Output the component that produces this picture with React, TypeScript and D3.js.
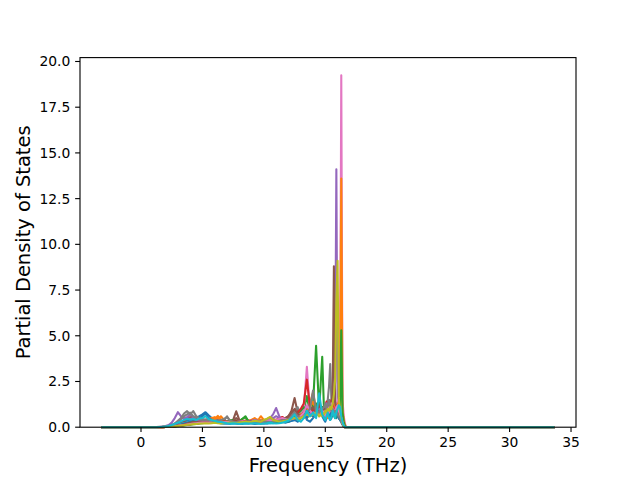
import React from 'react';
import * as d3 from 'd3';

const WIDTH = 640;
const HEIGHT = 480;
const MARGIN = { top: 57.6, right: 64, bottom: 52.8, left: 80 };

// frequency grid (THz) of the pdos data, plus the two flat end points
const FREQ_MIN = -3.13;
const FREQ_MAX = 33.57;
const FREQ = [
  1.0, 1.25, 1.5, 1.75, 2.0, 2.25, 2.5, 2.75, 3.0, 3.25, 3.5, 3.75,
  4.0, 4.25, 4.5, 4.75, 5.0, 5.25, 5.5, 5.75, 6.0, 6.25, 6.5, 6.75,
  7.0, 7.25, 7.5, 7.75, 8.0, 8.25, 8.5, 8.75, 9.0, 9.25, 9.5, 9.75,
  10.0, 10.25, 10.5, 10.75, 11.0, 11.25, 11.5, 11.75, 12.0, 12.25, 12.5, 12.75,
  13.0, 13.25, 13.5, 13.75, 14.0, 14.25, 14.5, 14.75,
  14.9, 15.0, 15.1, 15.2, 15.3, 15.4, 15.5, 15.6, 15.7, 15.8,
  15.9, 16.0, 16.1, 16.2, 16.3, 16.4, 16.5, 16.6, 16.7, 16.8,
];

const PDOS_00 = [0,0,0.01,0.02, 0.04,0.07,0.1,0.15, 0.2,0.25,0.3,0.35, 0.4,0.45,0.5,0.6, 0.7,0.82,0.65,0.5, 0.4,0.35,0.3,0.25, 0.3,0.25,0.2,0.25, 0.3,0.25,0.2,0.2, 0.25,0.3,0.25,0.2, 0.2,0.25,0.3,0.25, 0.3,0.35,0.3,0.25, 0.3,0.35,0.4,0.3, 0.5,0.9,0.4,0.3, 0.5,0.7,1.1,0.6,
  0.4,0.3,0.5,0.8,0.6,0.4,0.5,0.7,0.9,0.6, 0.5,0.8,0.6,0.4,0.3,0.2,0.1,0.02,0,0];
const PDOS_01 = [0,0,0,0.01, 0.02,0.04,0.07,0.1, 0.12,0.15,0.2,0.22, 0.25,0.28,0.3,0.32, 0.35,0.4,0.45,0.5, 0.55,0.45,0.6,0.4, 0.3,0.35,0.25,0.3, 0.25,0.3,0.35,0.3, 0.4,0.5,0.35,0.6, 0.4,0.3,0.35,0.4, 0.3,0.35,0.3,0.4, 0.5,0.45,0.6,0.4, 0.5,0.7,1.0,1.3, 1.9,0.9,0.6,0.8,
  0.6,0.9,0.7,0.5,0.8,1.1,0.9,0.7,0.6,1.0, 1.3,0.9,1.2,0.6,0.4,0.2,0.1,0,0,0];
const PDOS_02 = [0,0,0,0.01, 0.02,0.03,0.05,0.08, 0.1,0.12,0.15,0.18, 0.2,0.22,0.25,0.28, 0.3,0.32,0.3,0.35, 0.3,0.28,0.35,0.3, 0.25,0.3,0.35,0.3, 0.35,0.45,0.6,0.3, 0.25,0.3,0.25,0.3, 0.35,0.3,0.25,0.3, 0.35,0.3,0.4,0.35, 0.3,0.4,0.5,0.6, 0.7,0.9,1.7,0.8, 1.2,4.45,0.9,3.85,
  0.8,0.5,0.6,0.9,0.7,0.5,0.6,0.8,0.7,0.5, 0.6,0.7,0.5,0.4,0.3,0.15,0.05,0,0,0];
const PDOS_03 = [0,0,0,0, 0.01,0.02,0.04,0.06, 0.08,0.1,0.12,0.15, 0.17,0.2,0.22,0.25, 0.25,0.28,0.3,0.3, 0.32,0.3,0.28,0.3, 0.3,0.35,0.3,0.28, 0.3,0.32,0.35,0.3, 0.3,0.28,0.32,0.35, 0.3,0.35,0.3,0.35, 0.4,0.45,0.55,0.4, 0.45,0.5,0.6,0.7, 0.7,0.8,1.0,0.9, 0.8,1.1,0.9,0.7,
  0.9,1.2,0.8,1.0,1.3,1.1,1.4,0.9,1.0,0.8, 0.9,1.0,0.8,0.7,0.5,0.3,0.1,0.02,0,0];
const PDOS_04 = [0,0,0.01,0.03, 0.06,0.12,0.25,0.5, 0.82,0.6,0.45,0.55, 0.7,0.5,0.4,0.45, 0.4,0.35,0.3,0.35, 0.3,0.25,0.3,0.28, 0.25,0.3,0.28,0.25, 0.3,0.35,0.3,0.25, 0.3,0.35,0.4,0.3, 0.35,0.4,0.5,0.7, 1.05,0.6,0.4,0.35, 0.4,0.5,0.45,0.6, 0.5,0.7,0.6,0.8, 0.7,0.9,0.8,1.1,
  0.9,1.2,0.8,1.0,1.4,1.0,0.9,1.1,1.3,2.5, 14.1,1.2,0.8,0.6,0.4,0.2,0.05,0,0,0];
const PDOS_05 = [0,0,0,0.01, 0.02,0.04,0.06,0.1, 0.15,0.2,0.3,0.45, 0.55,0.5,0.45,0.4, 0.35,0.4,0.35,0.3, 0.35,0.3,0.4,0.35, 0.3,0.35,0.4,0.87, 0.4,0.3,0.35,0.3, 0.35,0.3,0.4,0.35, 0.3,0.35,0.4,0.35, 0.4,0.35,0.45,0.5, 0.6,0.9,1.6,0.8, 0.6,0.7,0.9,0.8, 1.0,0.9,1.2,0.8,
  1.0,0.9,1.1,0.8,1.2,1.0,1.3,1.4,1.1,0.9, 1.0,0.8,0.6,0.5,0.4,0.2,0.05,0,0,0];
const PDOS_06 = [0,0,0,0, 0.01,0.02,0.04,0.06, 0.1,0.15,0.2,0.25, 0.3,0.28,0.32,0.35, 0.3,0.28,0.25,0.3, 0.35,0.3,0.25,0.3, 0.28,0.25,0.3,0.35, 0.3,0.25,0.3,0.35, 0.4,0.35,0.3,0.35, 0.3,0.35,0.4,0.45, 0.4,0.5,0.45,0.4, 0.35,0.4,0.5,0.6, 0.8,1.0,3.3,0.9, 0.6,0.8,0.7,0.9,
  0.6,0.8,0.7,0.9,1.0,0.8,1.2,1.3,0.9,1.0, 1.1,1.4,1.6,2.0,19.25,1.5,0.6,0.2,0,0];
const PDOS_07 = [0,0.01,0.02,0.03, 0.05,0.08,0.12,0.2, 0.35,0.5,0.75,0.88, 0.7,0.88,0.6,0.5, 0.45,0.4,0.45,0.4, 0.35,0.4,0.3,0.35, 0.6,0.35,0.3,0.3, 0.25,0.3,0.35,0.3, 0.3,0.35,0.3,0.25, 0.3,0.35,0.3,0.35, 0.3,0.35,0.4,0.45, 0.5,0.7,0.9,1.1, 0.6,0.5,0.7,0.9, 1.0,0.8,0.7,0.9,
  0.8,1.0,1.2,1.5,2.2,3.45,1.4,1.0,0.9,1.1, 0.9,0.8,0.7,0.6,0.5,0.3,0.1,0.02,0,0];
const PDOS_08 = [0,0,0,0.01, 0.02,0.03,0.05,0.07, 0.1,0.12,0.15,0.18, 0.2,0.22,0.24,0.25, 0.25,0.26,0.25,0.24, 0.25,0.27,0.3,0.28, 0.25,0.27,0.3,0.28, 0.3,0.32,0.3,0.28, 0.3,0.35,0.4,0.35, 0.4,0.45,0.55,0.45, 0.35,0.3,0.35,0.4, 0.45,0.4,0.5,0.55, 0.5,0.6,0.5,0.7, 0.6,0.7,0.8,0.6,
  0.7,0.8,0.6,0.9,0.8,1.0,0.9,1.2,1.0,0.8, 0.9,1.1,0.8,0.6,0.4,0.2,0.05,0,0,0];
const PDOS_09 = [0,0,0,0.01, 0.02,0.04,0.06,0.1, 0.14,0.18,0.22,0.25, 0.28,0.3,0.32,0.3, 0.32,0.35,0.3,0.28, 0.25,0.24,0.22,0.2, 0.2,0.18,0.2,0.22, 0.2,0.18,0.2,0.22, 0.24,0.22,0.2,0.22, 0.25,0.22,0.2,0.22, 0.24,0.26,0.28,0.3, 0.35,0.4,0.45,0.5, 0.5,0.6,0.7,0.6, 0.7,0.9,1.2,0.8,
  0.6,0.5,0.7,0.9,0.6,0.5,0.8,0.7,0.6,0.8, 0.9,0.7,0.6,0.5,0.4,0.2,0.05,0,0,0];
const PDOS_10 = [0,0,0,0, 0.01,0.03,0.05,0.08, 0.12,0.15,0.2,0.25, 0.3,0.35,0.4,0.5, 0.6,0.75,0.5,0.4, 0.3,0.25,0.22,0.2, 0.2,0.22,0.25,0.2, 0.18,0.2,0.25,0.22, 0.2,0.18,0.2,0.25, 0.22,0.2,0.25,0.28, 0.3,0.28,0.32,0.35, 0.3,0.35,0.4,0.45, 0.6,0.7,0.5,0.8, 0.6,0.9,0.7,1.0,
  0.7,0.6,0.8,1.0,0.7,0.6,0.9,1.1,0.8,0.7, 0.9,0.6,0.5,0.4,0.3,0.15,0.05,0,0,0];
const PDOS_11 = [0,0,0,0, 0.01,0.02,0.03,0.05, 0.08,0.1,0.12,0.15, 0.18,0.2,0.22,0.25, 0.28,0.3,0.35,0.4, 0.45,0.62,0.4,0.35, 0.3,0.35,0.3,0.28, 0.3,0.35,0.3,0.35, 0.4,0.45,0.4,0.35, 0.3,0.35,0.3,0.35, 0.4,0.35,0.4,0.45, 0.5,0.55,0.5,0.6, 0.7,0.8,0.9,1.1, 1.4,0.8,0.7,0.9,
  0.8,1.0,0.9,1.1,0.8,1.2,1.0,0.9,1.1,1.3, 1.0,1.2,1.4,1.8,13.6,1.0,0.4,0.1,0,0];
const PDOS_12 = [0,0,0,0, 0.01,0.02,0.03,0.04, 0.06,0.08,0.1,0.12, 0.14,0.16,0.18,0.2, 0.22,0.24,0.25,0.26, 0.28,0.3,0.28,0.3, 0.32,0.35,0.4,0.35, 0.3,0.45,0.55,0.35, 0.3,0.28,0.3,0.32, 0.3,0.35,0.3,0.28, 0.3,0.32,0.35,0.4, 0.45,0.5,0.6,0.8, 0.9,1.1,0.8,0.9, 1.0,1.3,0.9,1.1,
  0.8,0.7,0.9,1.0,0.8,0.9,1.1,0.8,0.7,0.9, 1.0,0.8,0.9,1.2,5.3,0.8,0.3,0.05,0,0];
const PDOS_13 = [0,0,0,0, 0.01,0.02,0.03,0.05, 0.07,0.09,0.12,0.14, 0.16,0.18,0.2,0.22, 0.24,0.25,0.26,0.28, 0.3,0.28,0.3,0.32, 0.3,0.28,0.3,0.32, 0.3,0.35,0.32,0.3, 0.35,0.3,0.32,0.35, 0.38,0.35,0.4,0.38, 0.4,0.45,0.55,0.45, 0.5,0.6,0.7,0.8, 1.0,1.3,2.6,1.1, 0.9,1.0,1.2,0.9,
  1.0,1.2,1.4,1.1,0.9,1.3,1.5,1.2,1.0,0.9, 1.1,0.9,1.0,0.8,0.6,0.3,0.1,0,0,0];
const PDOS_14 = [0,0,0,0.01, 0.02,0.04,0.08,0.15, 0.3,0.45,0.55,0.5, 0.45,0.5,0.4,0.35, 0.3,0.32,0.3,0.28, 0.25,0.28,0.3,0.25, 0.22,0.25,0.28,0.25, 0.22,0.25,0.28,0.3, 0.35,0.4,0.35,0.3, 0.35,0.4,0.45,0.5, 0.6,0.5,0.4,0.35, 0.4,0.45,0.5,0.55, 0.6,0.7,0.8,0.7, 0.8,0.9,1.0,0.8,
  0.9,1.1,1.3,1.0,0.8,0.9,1.0,0.8,0.7,0.9, 1.1,0.8,0.6,0.5,0.3,0.15,0.05,0,0,0];
const PDOS_15 = [0,0,0,0, 0.01,0.02,0.04,0.06, 0.09,0.12,0.15,0.2, 0.25,0.3,0.28,0.3, 0.32,0.3,0.28,0.3, 0.32,0.35,0.3,0.28, 0.3,0.32,0.35,0.5, 0.35,0.3,0.28,0.3, 0.32,0.3,0.28,0.3, 0.32,0.35,0.3,0.32, 0.35,0.4,0.45,0.5, 0.6,0.8,1.0,0.7, 0.6,0.8,0.7,0.9, 1.1,0.8,1.3,0.9,
  1.0,1.2,0.9,1.1,1.3,1.0,1.2,1.9,8.8,1.4, 1.0,0.8,0.6,0.5,0.4,0.2,0.05,0,0,0];
const PDOS_16 = [0,0,0,0, 0.01,0.02,0.03,0.05, 0.08,0.1,0.12,0.15, 0.18,0.2,0.22,0.24, 0.25,0.26,0.25,0.28, 0.3,0.28,0.26,0.28, 0.3,0.28,0.26,0.28, 0.3,0.32,0.3,0.28, 0.3,0.35,0.32,0.3, 0.32,0.35,0.38,0.35, 0.4,0.45,0.5,0.45, 0.4,0.45,0.5,0.55, 0.6,0.8,1.2,0.9, 0.7,0.8,0.6,0.9,
  0.8,0.6,0.9,1.1,0.8,1.0,1.3,1.0,0.8,0.9, 1.1,1.2,0.9,0.7,0.5,0.25,0.05,0,0,0];
const PDOS_17 = [0,0,0.01,0.02, 0.04,0.07,0.1,0.18, 0.3,0.45,0.6,0.7, 0.8,0.6,0.55,0.45, 0.4,0.42,0.38,0.35, 0.32,0.35,0.4,0.45, 0.55,0.35,0.3,0.28, 0.3,0.28,0.3,0.32, 0.28,0.3,0.32,0.3, 0.32,0.3,0.28,0.3, 0.32,0.35,0.38,0.4, 0.45,0.6,0.8,0.6, 0.5,0.6,0.8,1.0, 2.0,0.9,0.8,1.0,
  1.1,1.3,1.0,1.2,1.5,1.1,0.9,1.0,0.8,0.9, 0.8,0.7,0.6,0.5,0.4,0.2,0.05,0,0,0];
const PDOS_18 = [0,0,0,0, 0.01,0.02,0.03,0.05, 0.07,0.09,0.11,0.13, 0.15,0.17,0.18,0.2, 0.2,0.22,0.2,0.22, 0.24,0.22,0.2,0.22, 0.24,0.26,0.24,0.22, 0.25,0.28,0.3,0.28, 0.3,0.35,0.32,0.3, 0.4,0.45,0.55,0.4, 0.35,0.3,0.32,0.35, 0.4,0.45,0.5,0.45, 0.5,0.6,0.7,0.6, 0.7,0.8,0.6,0.8,
  0.7,0.9,0.8,1.0,0.9,1.1,1.0,1.3,1.8,2.6, 7.0,9.1,1.6,0.9,0.5,0.25,0.05,0,0,0];
const PDOS_19 = [0,0,0.01,0.02, 0.04,0.07,0.12,0.18, 0.25,0.32,0.4,0.45, 0.42,0.45,0.4,0.48, 0.5,0.6,0.45,0.4, 0.35,0.3,0.28,0.25, 0.22,0.2,0.22,0.2, 0.18,0.2,0.22,0.2, 0.2,0.22,0.2,0.18, 0.2,0.22,0.25,0.22, 0.2,0.22,0.25,0.3, 0.35,0.5,0.7,0.4, 0.3,0.5,0.9,0.6, 0.8,0.5,1.85,0.7,
  0.5,0.4,0.6,0.8,0.5,0.4,0.6,0.9,0.7,0.5, 0.8,1.0,1.2,1.1,0.6,0.3,0.1,0.02,0,0];

const SERIES = [
  PDOS_00, PDOS_01, PDOS_02, PDOS_03, PDOS_04, PDOS_05, PDOS_06, PDOS_07, PDOS_08, PDOS_09,
  PDOS_10, PDOS_11, PDOS_12, PDOS_13, PDOS_14, PDOS_15, PDOS_16, PDOS_17, PDOS_18, PDOS_19,
];

const X_TICKS = [0, 5, 10, 15, 20, 25, 30, 35];
const Y_TICKS = [0, 2.5, 5, 7.5, 10, 12.5, 15, 17.5, 20];

const FONT = 'DejaVu Sans, sans-serif';
const TICK = 4.86;
const PAD = 4.86;

const App = () => {
  const boundsWidth = WIDTH - MARGIN.left - MARGIN.right;
  const boundsHeight = HEIGHT - MARGIN.top - MARGIN.bottom;
  const x0 = MARGIN.left;
  const y0 = MARGIN.top + boundsHeight;

  // matplotlib style 5% margins on x, bottom pinned at 0
  const span = FREQ_MAX - FREQ_MIN;
  const xScale = d3
    .scaleLinear()
    .domain([FREQ_MIN - 0.05 * span, FREQ_MAX + 0.05 * span])
    .range([MARGIN.left, MARGIN.left + boundsWidth]);

  const yMax = d3.max(SERIES, (s) => d3.max(s)) ?? 1;
  const yScale = d3
    .scaleLinear()
    .domain([0, yMax * 1.05])
    .range([y0, MARGIN.top]);

  const line = d3
    .line<[number, number]>()
    .x((d) => xScale(d[0]))
    .y((d) => yScale(d[1]));

  const colors = d3.schemeCategory10;

  const paths = SERIES.map((vals, i) => {
    const pts: [number, number][] = [[FREQ_MIN, 0]];
    vals.forEach((v, j) => pts.push([FREQ[j], v]));
    pts.push([FREQ_MAX, 0]);
    return (
      <path
        key={i}
        d={line(pts) ?? ''}
        fill="none"
        stroke={colors[i % 10]}
        strokeWidth={2.08}
        strokeLinejoin="round"
        strokeLinecap="square"
      />
    );
  });

  return (
    <svg
      width={WIDTH}
      height={HEIGHT}
      style={{ position: 'absolute', left: 0, top: 0, background: '#fff' }}
      fontFamily={FONT}
    >
      <rect x={0} y={0} width={WIDTH} height={HEIGHT} fill="#fff" />
      {paths}

      {/* frame */}
      <rect
        x={x0}
        y={MARGIN.top}
        width={boundsWidth}
        height={boundsHeight}
        fill="none"
        stroke="#000"
        strokeWidth={1.11}
      />

      {/* x axis */}
      {X_TICKS.map((t) => (
        <g key={t} transform={`translate(${xScale(t)},${y0})`}>
          <line y2={TICK} stroke="#000" strokeWidth={1.11} />
          <text y={TICK + PAD + 10.5} textAnchor="middle" fontSize={13.89} fill="#000">
            {t}
          </text>
        </g>
      ))}

      {/* y axis */}
      {Y_TICKS.map((t) => (
        <g key={t} transform={`translate(${x0},${yScale(t)})`}>
          <line x2={-TICK} stroke="#000" strokeWidth={1.11} />
          <text x={-TICK - PAD} y={5} textAnchor="end" fontSize={13.89} fill="#000">
            {t.toFixed(1)}
          </text>
        </g>
      ))}

      <text x={x0 + boundsWidth / 2} y={472} textAnchor="middle" fontSize={19.44} fill="#000">
        Frequency (THz)
      </text>
      <text
        transform={`translate(29.5,${MARGIN.top + boundsHeight / 2}) rotate(-90)`}
        textAnchor="middle"
        fontSize={19.44}
        fill="#000"
      >
        Partial Density of States
      </text>
    </svg>
  );
};

export default App;
